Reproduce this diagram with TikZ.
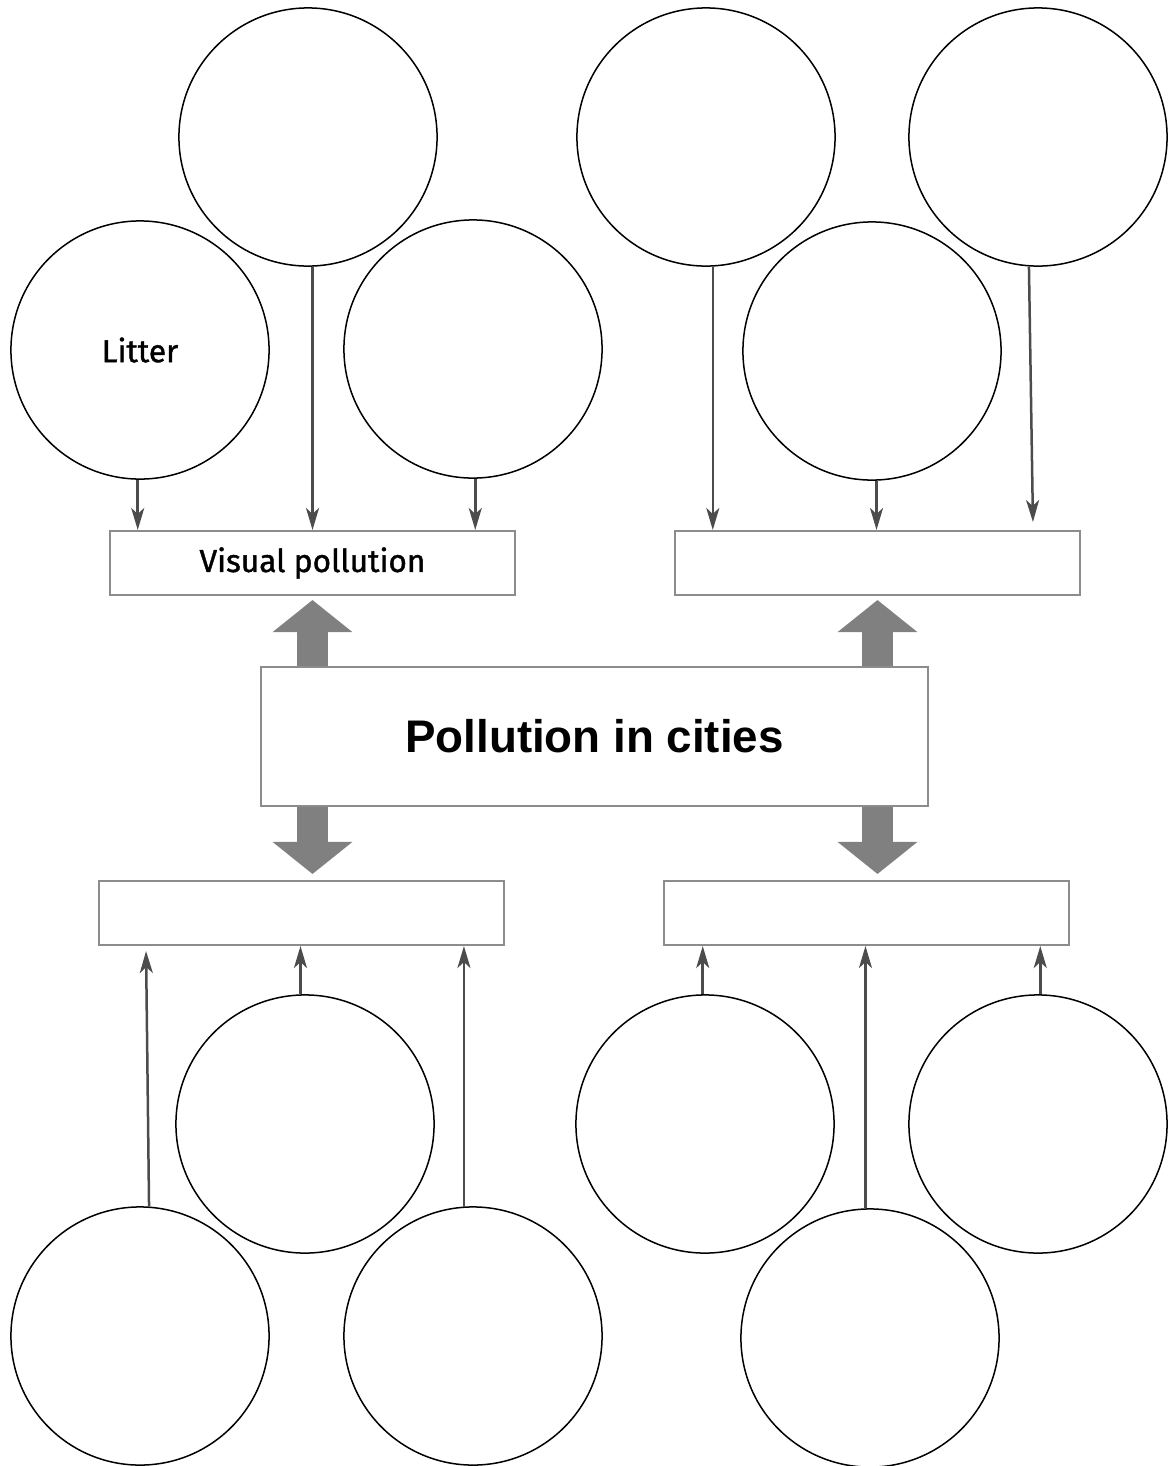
\documentclass[tikz,border=0pt]{standalone}
\usepackage{fontspec}
\setmainfont{Liberation Sans}
\newfontfamily\handfont[FakeBold=1.2]{Fira Sans}
\usetikzlibrary{arrows.meta}
\tikzset{
  bubble/.style={draw=black, line width=0.015cm, circle, minimum size=2.58cm, inner sep=0pt,
    font=\handfont\fontsize{9}{11}\selectfont},
  topicbox/.style={draw=gray!90, line width=0.02cm, minimum width=4.05cm, minimum height=0.64cm,
    inner sep=0pt, font=\handfont\fontsize{9}{11}\selectfont},
  hubbox/.style={draw=gray!90, line width=0.02cm, minimum width=6.67cm, minimum height=1.39cm,
    inner sep=0pt, font=\bfseries\fontsize{13}{15}\selectfont},
  link/.style={draw=black!70, line width=0.025cm, -{Stealth[length=0.22cm,width=0.13cm,inset=0.06cm]}},
  bigarrow/.style={draw=gray, line width=0.3cm, -{Triangle[length=0.32cm,width=0.78cm]}}
}
\begin{document}
\begin{tikzpicture}[x=0.01cm, y=-0.01cm]
\useasboundingbox (0,0) rectangle (1168,1466);

% circles
\foreach \n/\x/\y/\t in {a1/308/137/, a2/140/350/Litter, a3/473/349/,
                         b1/706/137/, b2/872/351/, b3/1038/137/,
                         c1/305/1124/, c2/140/1336/, c3/473/1336/,
                         d1/705/1124/, d2/870/1338/, d3/1038/1124/}
  \node[bubble] (\n) at (\x,\y) {\t};

% boxes
\node[topicbox] (vis) at (312.5,563) {Visual pollution};
\node[topicbox] (tr) at (877.5,563) {};
\node[topicbox] (bl) at (301.5,913) {};
\node[topicbox] (br) at (866.5,913) {};
\node[hubbox] (hub) at (594.5,736.5) {Pollution in cities};

% thin arrows, top
\draw[link] (a2.269) -- (a2.269 |- vis.north);
\draw[link] (a1.272) -- (a1.272 |- vis.north);
\draw[link] (a3.271) -- (a3.271 |- vis.north);
\draw[link] (b1.273) -- (b1.273 |- tr.north);
\draw[link] (b2.272) -- (b2.272 |- tr.north);
\draw[link] (b3.266) -- ([xshift=0.04cm,yshift=0.08cm]b3.266 |- tr.north);

% thin arrows, bottom
\draw[link] (c2.86) -- ([xshift=-0.03cm,yshift=-0.05cm]c2.86 |- bl.south);
\draw[link] (c1.92) -- (c1.92 |- bl.south);
\draw[link] (c3.94) -- (c3.94 |- bl.south);
\draw[link] (d1.91) -- (d1.91 |- br.south);
\draw[link] (d2.92) -- (d2.92 |- br.south);
\draw[link] (d3.89) -- (d3.89 |- br.south);

% thick arrows
\draw[bigarrow] (hub.north -| vis) -- ([yshift=-0.04cm]vis.south);
\draw[bigarrow] (hub.north -| tr) -- ([yshift=-0.04cm]tr.south);
\draw[bigarrow] (hub.south -| vis) -- ([yshift=0.06cm]bl.north -| vis);
\draw[bigarrow] (hub.south -| tr) -- ([yshift=0.06cm]br.north -| tr);
\end{tikzpicture}
\end{document}
